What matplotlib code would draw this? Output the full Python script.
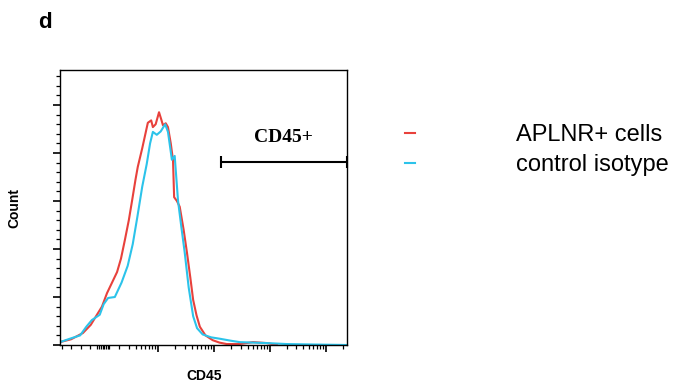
import numpy as np
import matplotlib.pyplot as plt
from matplotlib.ticker import FixedLocator, NullFormatter

# CD45 in decade units (biexponential display), count in arbitrary units
red_x = [0.25, 0.45, 0.66, 0.80, 0.91, 1.00, 1.09, 1.18, 1.27, 1.34, 1.41, 1.48, 1.54, 1.60, 1.64,
         1.72, 1.82, 1.88, 1.91, 1.96, 2.02, 2.06, 2.09, 2.14, 2.18, 2.23, 2.27, 2.29, 2.34, 2.39,
         2.46, 2.52, 2.58, 2.63, 2.69, 2.75, 2.85, 2.98, 3.10, 3.23, 3.46, 3.70, 3.95, 4.13]
red_y = [0.06, 0.12, 0.25, 0.42, 0.63, 0.80, 1.08, 1.30, 1.52, 1.80, 2.19, 2.60, 3.02, 3.45, 3.71,
         4.10, 4.63, 4.68, 4.54, 4.60, 4.85, 4.70, 4.58, 4.62, 4.54, 4.20, 3.85, 3.08, 3.00, 2.88,
         2.40, 1.92, 1.40, 0.94, 0.62, 0.38, 0.20, 0.10, 0.05, 0.02, 0.02, 0.06, 0.04, 0.0]
blue_x = [0.25, 0.45, 0.61, 0.72, 0.82, 0.96, 1.03, 1.11, 1.23, 1.35, 1.46, 1.55, 1.63, 1.72, 1.80,
          1.86, 1.91, 1.98, 2.05, 2.13, 2.18, 2.25, 2.30, 2.36, 2.42, 2.48, 2.55, 2.63, 2.70, 2.80,
          2.95, 3.11, 3.30, 3.46, 3.70, 3.95, 4.30, 4.80, 5.38]
blue_y = [0.06, 0.14, 0.20, 0.38, 0.52, 0.63, 0.85, 0.98, 1.00, 1.30, 1.65, 2.10, 2.65, 3.30, 3.77,
          4.20, 4.44, 4.38, 4.45, 4.60, 4.44, 3.86, 3.94, 3.00, 2.45, 1.92, 1.20, 0.60, 0.35, 0.22,
          0.16, 0.13, 0.09, 0.06, 0.05, 0.04, 0.02, 0.01, 0.0]
labels = ['APLNR+ cells', 'control isotype']
gate = [3.13, 5.38]
gate_y = 3.81

fig = plt.figure(figsize=(6.74, 3.85), dpi=100)
ax = fig.add_axes([60/674, 40/385, 287/674, 275/385])

l1, = ax.plot(red_x, red_y, color='#e8413c', lw=1.5, label=labels[0])
l2, = ax.plot(blue_x, blue_y, color='#2cc3ea', lw=1.5, label=labels[1])

ax.set_xlim(0.25, 5.38)
ax.set_ylim(0, 5.73)

# gate bar
ax.errorbar([(gate[0] + gate[1]) / 2], [gate_y], xerr=[(gate[1] - gate[0]) / 2],
            color='black', lw=1.5, capsize=4, capthick=1.5, clip_on=False)
ax.text(4.25, 4.33, 'CD45+', family='Liberation Serif', weight='bold',
        fontsize=14, ha='center', va='center')

# ticks
xmaj = [2, 3, 4, 5]
xmin = [0.28, 0.45, 0.63, 0.78, 0.92, 0.95, 0.98, 1.01, 1.04, 1.07, 1.10, 1.13]
for d in [1, 2, 3, 4]:
    xmin += [d + np.log10(k) for k in range(2, 10)]
xmin += [5 + np.log10(k) for k in range(2, 3)]
ax.xaxis.set_major_locator(FixedLocator(xmaj))
ax.xaxis.set_minor_locator(FixedLocator(xmin))
ax.yaxis.set_major_locator(FixedLocator([0, 1, 2, 3, 4, 5]))
ax.yaxis.set_minor_locator(FixedLocator([i * 0.2 for i in range(29) if i % 5]))
ax.xaxis.set_major_formatter(NullFormatter())
ax.yaxis.set_major_formatter(NullFormatter())
ax.tick_params(which='major', length=5, width=1.2, direction='out')
ax.tick_params(which='minor', length=3, width=0.9, direction='out')
for s in ax.spines.values():
    s.set_linewidth(1.0)

fig.text(14/674, 1 - 208/385, 'Count', family='Liberation Sans', fontsize=10, weight='bold',
         rotation=90, ha='center', va='center')
fig.text(204/674, 1 - 376/385, 'CD45', family='Liberation Sans', fontsize=10, weight='bold',
         ha='center', va='center')
fig.text(45/674, 1 - 22/385, 'd', family='Liberation Sans', fontsize=16, weight='bold',
         ha='center', va='center')

fig.legend([l1, l2], labels, loc='upper left', bbox_to_anchor=(384/674, 1 - 103/385),
           frameon=False, handlelength=0.4, handletextpad=4.3, labelspacing=0.33,
           prop={'family': 'Liberation Sans', 'size': 17})

fig.savefig('out.png', dpi=100)
